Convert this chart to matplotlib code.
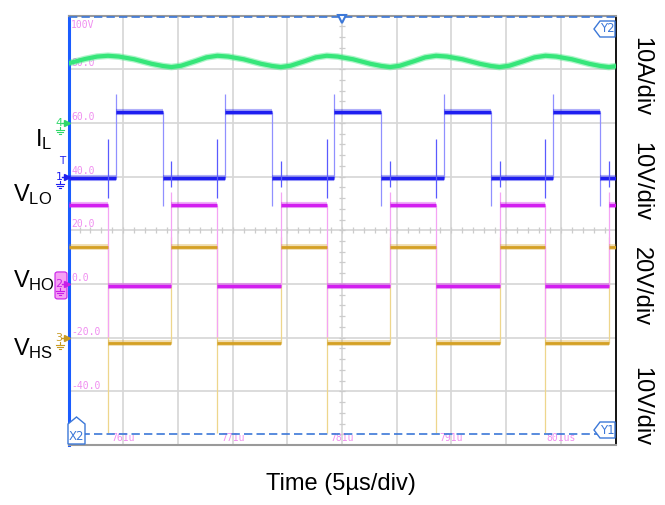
import matplotlib
matplotlib.use('Agg')
import matplotlib.pyplot as plt
from matplotlib.patches import Polygon, FancyBboxPatch
from matplotlib.lines import Line2D

W, H = 665, 505

plt.rcParams['font.family'] = ['Liberation Sans', 'DejaVu Sans']
plt.rcParams['mathtext.fontset'] = 'custom'
plt.rcParams['mathtext.rm'] = 'Liberation Sans'
plt.rcParams['mathtext.it'] = 'Liberation Sans'

# screen: 5us/div horizontally, labels in 20V/div vertically
t_start, t_end = 756, 806
v_bot, v_top = -60, 100

x_tick_pos = [761, 771, 781, 791, 801]
x_tick_lbl = ['761u', '771u', '781u', '791u', '801us']
y_tick_pos = [100, 80, 60, 40, 20, 0, -20, -40]
y_tick_lbl = ['100V', '80.0', '60.0', '40.0', '20.0', '0.0', '-20.0', '-40.0']

# switching edges (us)
hs_fall = [759.6, 769.6, 779.6, 789.6, 799.6]
hs_rise = [765.4, 775.4, 785.4, 795.4, 805.4]
ls_rise = [760.3, 770.3, 780.3, 790.3, 800.3]
ls_fall = [764.6, 774.6, 784.6, 794.6, 804.6]

# inductor current trace (ch4), in screen volts, read point by point
il_t = [756, 757.5, 758.6, 759.6, 760.6, 762.0, 763.6, 764.6, 765.4, 766.3, 767.6, 768.6, 769.6,
        770.6, 772.0, 773.6, 774.6, 775.4, 776.3, 777.6, 778.6, 779.6,
        780.6, 782.0, 783.6, 784.6, 785.4, 786.3, 787.6, 788.6, 789.6,
        790.6, 792.0, 793.6, 794.6, 795.4, 796.3, 797.6, 798.6, 799.6,
        800.6, 802.0, 803.6, 804.6, 805.4, 806]
il_v = [82.2, 83.8, 84.7, 85.0, 84.7, 83.7, 82.0, 81.2, 80.8, 81.3, 83.0, 84.4, 85.0,
        84.7, 83.7, 82.0, 81.2, 80.8, 81.3, 83.0, 84.4, 85.0,
        84.7, 83.7, 82.0, 81.2, 80.8, 81.3, 83.0, 84.4, 85.0,
        84.7, 83.7, 82.0, 81.2, 80.8, 81.3, 83.0, 84.4, 85.0,
        84.7, 83.7, 82.0, 81.2, 80.8, 81.1]

# flat levels (screen volts)
vlo_hi, vlo_lo = 64.0, 39.6
vho_hi, vho_lo = 29.4, -0.8
vhs_hi, vhs_lo = 13.9, -22.1

# ringing extremes at the edges
vlo_rise_pk, vlo_fall_pk = 70.8, 29.2
vlo_spk_hsoff = [32.0, 54.0]
vlo_spk_hson = [36.1, 45.8]
vho_fall_pk, vho_rise_pk = -19.7, 34.3
vhs_fall_pk, vhs_rise_pk = -55.5, 17.4

# cursors
cursor_y2, cursor_y1 = 99.4, -55.9

# channel ground markers: name, level, colour
ch_marks = [('4', 60, '#2fd86a'), ('1', 40, '#1e1ef0'), ('2', 0, '#c81ee8'), ('3', -20, '#c89a20')]

green = '#36e67a'
blue = '#1e1ef0'
magenta = '#d21ef0'
gold = '#d4a024'
pink_txt = '#f08ef0'
cur_blue = '#3c78d8'


def segments(on, off, start_hi):
    edges = sorted([(t, 1) for t in on] + [(t, 0) for t in off])
    segs = []
    t0, state = t_start, start_hi
    for t, s in edges:
        segs.append((t0, t, state))
        t0, state = t, s
    segs.append((t0, t_end, state))
    return segs


def draw_trace(ax, segs, hi, lo, color, core=2.4, fuzz=4.4):
    starts = [s[0] for s in segs]
    ends = [s[1] for s in segs]
    lev = [hi if s[2] else lo for s in segs]
    ax.hlines(lev, starts, ends, color=color, lw=fuzz, alpha=0.35, zorder=4)
    ax.hlines(lev, starts, ends, color=color, lw=core, zorder=5)


def fpx(x, y):
    return (x / W, 1 - y / H)


fig = plt.figure(figsize=(W / 100, H / 100), dpi=100)
fig.patch.set_facecolor('white')

ax_l, ax_r, ax_t, ax_b = 68.6, 615.5, 15.5, 445.0
ax = fig.add_axes([ax_l / W, 1 - ax_b / H, (ax_r - ax_l) / W, (ax_b - ax_t) / H])
ax.set_xlim(t_start, t_end)
ax.set_ylim(v_bot, v_top)
ax.set_xticks([])
ax.set_yticks([])

# graticule
for t in range(t_start + 5, t_end, 5):
    ax.axvline(t, color='#d6d6d6', lw=1.2, zorder=1)
for v in range(v_bot + 20, v_top, 20):
    ax.axhline(v, color='#d6d6d6', lw=1.2, zorder=1)
t_c, v_c = (t_start + t_end) / 2, (v_bot + v_top) / 2
ax.plot([t_start + i * 1.0 for i in range(1, 50)], [v_c] * 49, ls='none',
        marker='|', ms=4, color='#cccccc', mew=0.9, zorder=1)
ax.plot([t_c] * 39, [v_bot + i * 4.0 for i in range(1, 40)], ls='none',
        marker='_', ms=4, color='#cccccc', mew=0.9, zorder=1)

for s in ['top', 'bottom']:
    ax.spines[s].set_color('#9a9a9a')
    ax.spines[s].set_linewidth(1.5)
ax.spines['left'].set_color('#1a5cff')
ax.spines['left'].set_linewidth(2.2)
ax.spines['right'].set_color('black')
ax.spines['right'].set_linewidth(1.3)

# scale labels
for v, lbl in zip(y_tick_pos, y_tick_lbl):
    if v == v_top:
        ax.text(t_start + 0.25, v - 1.6, lbl, color=pink_txt, fontsize=7,
                family='DejaVu Sans Mono', va='top', ha='left', zorder=3)
    else:
        ax.text(t_start + 0.25, v + 0.3, lbl, color=pink_txt, fontsize=7,
                family='DejaVu Sans Mono', va='bottom', ha='left', zorder=3)
for t, lbl in zip(x_tick_pos, x_tick_lbl):
    ax.text(t, v_bot + 0.6, lbl, color=pink_txt, fontsize=7,
            family='DejaVu Sans Mono', va='bottom', ha='center', zorder=3)

# edges (fast transitions, drawn faint)
ax.vlines(hs_fall, vhs_fall_pk, vhs_hi, color='#eed68c', lw=0.9, zorder=3)
ax.vlines(hs_rise, vhs_lo, vhs_rise_pk, color='#eed68c', lw=0.9, zorder=3)
ax.vlines(hs_fall, vho_fall_pk, vho_hi, color='#f4a4f4', lw=0.9, zorder=3)
ax.vlines(hs_rise, vho_lo, vho_rise_pk, color='#f4a4f4', lw=0.9, zorder=3)
ax.vlines(ls_rise, vlo_lo, vlo_rise_pk, color='#9090ff', lw=0.9, zorder=3)
ax.vlines(ls_fall, vlo_fall_pk, vlo_hi, color='#9090ff', lw=0.9, zorder=3)
ax.vlines(hs_fall, vlo_spk_hsoff[0], vlo_spk_hsoff[1], color='#5a5aff', lw=0.9, zorder=6)
ax.vlines(hs_rise, vlo_spk_hson[0], vlo_spk_hson[1], color='#5a5aff', lw=0.9, zorder=6)

# traces
draw_trace(ax, segments(hs_rise, hs_fall, True), vhs_hi, vhs_lo, gold, core=2.0, fuzz=4.2)
draw_trace(ax, segments(hs_rise, hs_fall, True), vho_hi, vho_lo, magenta)
draw_trace(ax, segments(ls_rise, ls_fall, False), vlo_hi, vlo_lo, blue)
ax.plot(il_t, il_v, color=green, lw=4.8, alpha=0.4, zorder=5, solid_joinstyle='round')
ax.plot(il_t, il_v, color=green, lw=3.0, zorder=6, solid_joinstyle='round')

# cursors
for cv in [cursor_y2, cursor_y1]:
    ax.axhline(cv, color=cur_blue, lw=1.2, dashes=(5, 2.5), zorder=7)
ax.plot([t_c], [v_top - 1.4], marker='v', ms=6, mfc='white', mec=cur_blue,
        mew=1.5, clip_on=False, zorder=8)


# cursor tags
def tag(pts, label, tx, ty):
    poly = Polygon([fpx(x, y) for x, y in pts], closed=True, transform=fig.transFigure,
                   facecolor='white', edgecolor=cur_blue, lw=1.0, zorder=9)
    fig.add_artist(poly)
    fig.text(*fpx(tx, ty), label, color=cur_blue, fontsize=8.5, ha='center',
             va='center', family='DejaVu Sans', zorder=10)

tag([(68, 444), (68, 424), (76.5, 417), (85, 424), (85, 444)], 'X2', 76.5, 436)
tag([(594, 430), (600, 422), (615, 422), (615, 438), (600, 438)], 'Y1', 607.5, 430)
tag([(594, 29), (600, 21), (615, 21), (615, 37), (600, 37)], 'Y2', 607.5, 29)


# channel ground markers on the left edge
def vy(v):
    return ax_t + (v_top - v) / (v_top - v_bot) * (ax_b - ax_t)

for name, lev, col in ch_marks:
    y = vy(lev)
    if name == '2':
        box = FancyBboxPatch(fpx(55, y + 15), 12 / W, 27 / H, boxstyle='round,pad=0,rounding_size=0.004',
                             transform=fig.transFigure, facecolor='#f6a0f4',
                             edgecolor=col, lw=0.8, zorder=8)
        fig.add_artist(box)
    fig.text(*fpx(59, y), name, color=col, fontsize=8, ha='center', va='center',
             family='DejaVu Sans', zorder=9)
    fig.add_artist(Line2D(*zip(fpx(62, y), fpx(67, y)), transform=fig.transFigure,
                          color=col, lw=1.0, marker='>', markevery=[1], ms=4, zorder=9))
    fig.add_artist(Line2D(*zip(fpx(60, y + 4), fpx(60, y + 7)), transform=fig.transFigure,
                          color=col, lw=0.8, zorder=9))
    for k, hw in enumerate([4, 2.6, 1.2]):
        fig.add_artist(Line2D(*zip(fpx(60 - hw, y + 7 + 2 * k), fpx(60 + hw, y + 7 + 2 * k)),
                              transform=fig.transFigure, color=col, lw=0.8, zorder=9))
    if name == '1':
        fig.text(*fpx(62, y - 16), 'T', color=col, fontsize=7.5, ha='center', va='center',
                 family='DejaVu Sans', zorder=9)

# signal names
fig.text(*fpx(35, 146), r'$\mathrm{I_L}$', fontsize=17, ha='left', va='baseline')
fig.text(*fpx(13, 201), r'$\mathrm{V_{LO}}$', fontsize=17, ha='left', va='baseline')
fig.text(*fpx(13, 287), r'$\mathrm{V_{HO}}$', fontsize=17, ha='left', va='baseline')
fig.text(*fpx(13, 355), r'$\mathrm{V_{HS}}$', fontsize=17, ha='left', va='baseline')

# per-channel scales
for lbl, yc in [('10A/div', 77), ('10V/div', 182), ('20V/div', 287), ('10V/div', 407)]:
    fig.text(*fpx(641, yc), lbl, fontsize=17, rotation=-90, ha='center', va='center')

fig.text(*fpx(341, 490), 'Time (5µs/div)', fontsize=17, ha='center', va='baseline')

fig.savefig('out.png', dpi=100, facecolor='white')
